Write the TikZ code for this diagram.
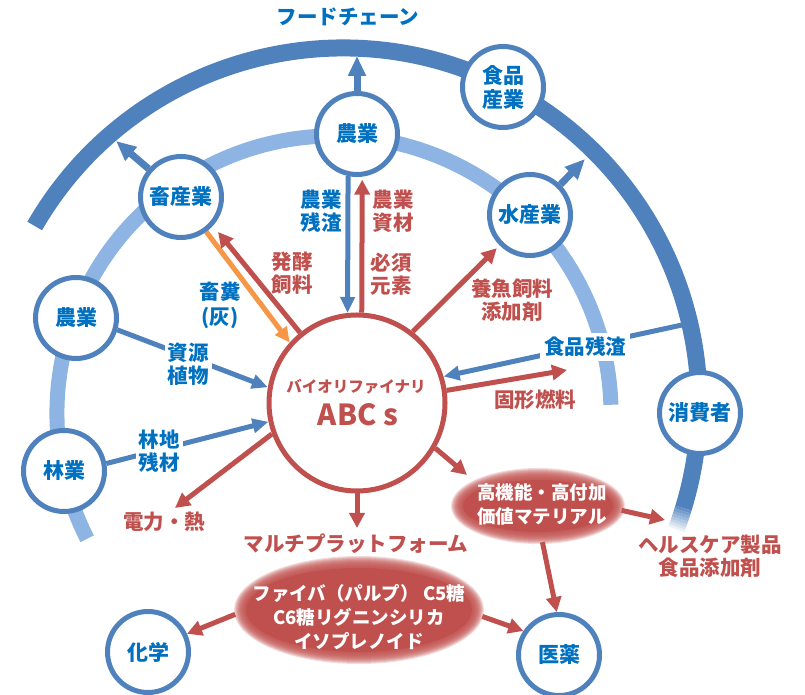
\documentclass[tikz,border=0pt]{standalone}
\usepackage{fontspec}
\setmainfont{Noto Sans CJK JP}
\usetikzlibrary{arrows.meta,shapes.geometric}
\definecolor{textblue}{RGB}{0,112,192}
\definecolor{nodeblue}{RGB}{79,129,189}
\definecolor{arcblue}{RGB}{79,129,189}
\definecolor{lightarc}{RGB}{141,180,226}
\definecolor{redc}{RGB}{192,80,77}
\definecolor{orangec}{RGB}{247,150,70}
\pgfdeclarelayer{back}
\pgfsetlayers{back,main}
\tikzset{
  bnode/.style={circle, draw=nodeblue, line width=5pt, fill=white, minimum size=81pt,
    inner sep=0pt, text=textblue, font=\bfseries\fontsize{21}{24}\selectfont, align=center},
  blab/.style={text=textblue, font=\bfseries\fontsize{20.5}{23}\selectfont, align=center, inner sep=3pt},
  rlab/.style={text=redc, font=\bfseries\fontsize{20.5}{23}\selectfont, align=center, inner sep=3pt},
  wlab/.style={text=white, font=\bfseries\fontsize{18.5}{24}\selectfont, align=center},
  rarrow/.style={draw=redc, line width=5pt, -{Triangle[width=15pt,length=15pt]}},
  barrow/.style={draw=nodeblue, line width=5pt, -{Triangle[width=14pt,length=16pt]}},
  barrowL/.style={draw=nodeblue, line width=7pt, -{Triangle[width=17pt,length=20pt]}},
  oarrow/.style={draw=orangec, line width=5pt, -{Triangle[width=14pt,length=15pt]}},
}
\begin{document}
\begin{tikzpicture}[x=1pt,y=1pt]
\useasboundingbox (0,0) rectangle (805,695);
% ---------- nodes ----------
\node[bnode] (nA) at (357,561) {農業};
\node[bnode] (nC) at (181,498) {畜産業};
\node[bnode] (nF) at (503,608) {食品\\産業};
\node[bnode] (nS) at (530,480) {水産業};
\node[bnode] (nL) at (76,377) {農業};
\node[bnode] (nR) at (64,224) {林業};
\node[bnode] (nK) at (700,282) {消費者};
\node[bnode] (nX) at (148,43) {化学};
\node[bnode] (nM) at (559,40) {医薬};
\node[circle, draw=redc, line width=5pt, fill=white, minimum size=176pt, inner sep=0pt] (abc) at (357,292) {};
\node[text=redc, font=\bfseries\fontsize{15.5}{18}\selectfont] (bio) at (356,308) {バイオリファイナリ};
\node[text=redc, font=\bfseries\fontsize{29}{32}\selectfont] (abcs) at (358,280) {ABC s};
\node[ellipse, minimum width=168pt, minimum height=72pt, inner sep=0pt] (e1) at (538,189) {};
\node[ellipse, minimum width=248pt, minimum height=106pt, inner sep=0pt] (e2) at (359,85) {};
\node[wlab] (e1t) at (542,191) {高機能・高付加\\価値マテリアル};
\node[wlab] (e2t) at (359,78) {ファイバ（パルプ） C5糖\\C6糖リグニンシリカ\\イソプレノイド};
% ---------- labels ----------
\node[blab] (title) at (348,678) {フードチェーン};
\node[blab] (lRes) at (321,484) {農業\\残渣};
\node[rlab] (lMat) at (393,484) {農業\\資材};
\node[rlab] (lFer) at (292,422) {発酵\\飼料};
\node[rlab] (lEss) at (391,421) {必須\\元素};
\node[blab] (lDung) at (220,390) {畜糞\\[2pt](灰)};
\node[blab, fill=white] (lPl) at (188,331) {資源\\植物};
\node[blab, fill=white] (lFo) at (159,244) {林地\\残材};
\node[rlab] (lAq) at (512,395) {養魚飼料\\添加剤};
\node[blab, fill=white, inner sep=4pt] (lFood) at (585,348) {食品残渣};
\node[rlab] (lFuel) at (535,295) {固形燃料};
\node[rlab] (lPow) at (164,173) {電力・熱};
\node[rlab] (mp) at (356,151) {マルチプラットフォーム};
\node[rlab] (hc) at (710,139) {ヘルスケア製品\\食品添加剤};
% ---------- free ends ----------
\coordinate (tA) at (357,639);
\coordinate (tC2) at (116,554);
\coordinate (tS) at (585,536);
\coordinate (tFoodS) at (682,370);
\coordinate (tFuel) at (567,325);
\coordinate (tPow) at (175,187);
\coordinate (tMP) at (357,167);
\coordinate (tE1) at (467,220);
\coordinate (tHC) at (665,175);
\begin{pgfonlayer}{back}
% outer arc (food chain)
\draw[line width=17pt, arcblue] (343,291) ++(150:356) arc[start angle=150, end angle=-17, radius=356];
\foreach \i [evaluate=\i as \op using 0.88-0.11*\i, evaluate=\i as \aa using -17-0.45*\i,
             evaluate=\i as \bb using -17-0.45*(\i+1)] in {0,...,7}
  {\draw[line width=17pt, arcblue, opacity=\op] (343,291) ++(\aa:356) arc[start angle=\aa, end angle=\bb, radius=356];}
% inner arc
\draw[line width=15pt, lightarc] (334,282) ++(207:277) arc[start angle=207, end angle=1.7, radius=277];
% connectors
\draw[barrowL] (nA.north) -- (tA);
\draw[barrowL] (nC.139) -- (tC2);
\draw[barrowL] (nS.45) -- (tS);
\draw[barrow] (nA.-102) -- (abc.96);
\draw[rarrow, shorten >=3pt] (abc.87) -- (nA.-83);
\draw[barrow] (nL.-16) -- (abc.170);
\draw[barrow] (nR.10) -- (abc.192);
\draw[barrow] (tFoodS) -- (abc.17);
\draw[oarrow] (nC.-54) -- (abc.138);
\draw[rarrow, shorten >=8pt] (abc.129) -- (nC.-42);
\draw[rarrow, shorten >=4pt] (abc.52) -- (nS.-135);
\draw[rarrow] (abc.8) -- (tFuel);
\draw[rarrow] (abc.200) -- (tPow);
\draw[rarrow] (abc.south) -- (tMP);
\draw[rarrow] (abc.-30) -- (tE1);
\draw[rarrow] (e1.-3) -- (tHC);
\draw[rarrow] (e1.-83) -- (nM.93);
\draw[rarrow] (e2.182) -- (nX.25);
\draw[rarrow] (e2.-3) -- (nM.146);
% soft ellipses
\foreach \k in {12,11,...,1}
  {\fill[redc, opacity=0.2] (e1.center) ellipse[x radius={75+\k}, y radius={26+\k}];
   \fill[redc, opacity=0.2] (e2.center) ellipse[x radius={113+\k}, y radius={42+\k}];}
\fill[redc] (e1.center) ellipse[x radius=75, y radius=26];
\fill[redc] (e2.center) ellipse[x radius=113, y radius=42];
\end{pgfonlayer}
\end{tikzpicture}
\end{document}
